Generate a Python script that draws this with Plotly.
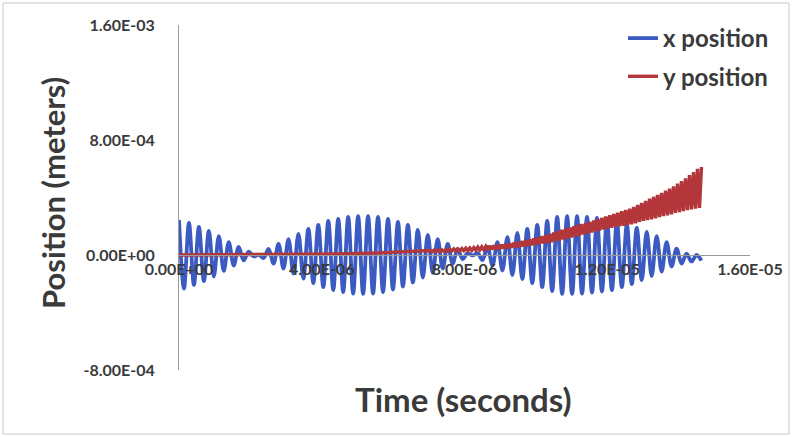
import numpy as np
import plotly.graph_objects as go

SCALE = 1e-4  # values below are in units of 1e-4 m

# ---- x position: successive extremes (half-period samples)
x_pos_extremes = [
    2.44, -2.33, 2.23, -2.09, 1.95, -1.81, 1.67, -1.50, 1.32, -1.11,
    0.90, -0.73, 0.56, -0.38, 0.24, -0.10, 0.03, -0.21, 0.42, -0.59,
    0.77, -0.94, 1.11, -1.29, 1.46, -1.64, 1.81, -1.95, 2.09, -2.23,
    2.37, -2.44, 2.51, -2.58, 2.65, -2.68, 2.71, -2.71, 2.71, -2.68,
    2.65, -2.58, 2.51, -2.40, 2.30, -2.19, 2.09, -1.91, 1.74, -1.57,
    1.39, -1.25, 1.11, -0.94, 0.77, -0.59, 0.42, -0.28, 0.14, -0.03,
    0.14, -0.35, 0.56, -0.73, 0.90, -1.08, 1.25, -1.39, 1.53, -1.67,
    1.81, -1.95, 2.09, -2.23, 2.37, -2.51, 2.65, -2.71, 2.71, -2.71,
    2.71, -2.68, 2.65, -2.61, 2.58, -2.54, 2.51, -2.44, 2.33, -2.23,
    2.12, -2.02, 1.88, -1.74, 1.60, -1.46, 1.32, -1.15, 0.90, -0.80,
    0.45, -0.60, 0.10, -0.45, 0.00, -0.38,
]
x_pos_t_start = 0.0
x_pos_t_end = 1.464e-5

# ---- y position: early smooth part
y_pos_early_t = [0.0, 2.27e-6, 4.51e-6, 5.63e-6, 6.47e-6]
y_pos_early = [0.0, 0.02, 0.08, 0.15, 0.22]

# ---- y position: oscillating part, upper and lower extremes
y_pos_upper = [
    0.31, 0.33, 0.34, 0.36, 0.38, 0.40, 0.42, 0.43, 0.45, 0.47,
    0.49, 0.52, 0.55, 0.57, 0.60, 0.63, 0.66, 0.69, 0.72, 0.76,
    0.80, 0.85, 0.90, 0.96, 1.02, 1.08, 1.15, 1.22, 1.30, 1.38,
    1.46, 1.56, 1.66, 1.75, 1.83, 1.91, 2.00, 2.08, 2.16, 2.23,
    2.30, 2.40, 2.49, 2.58, 2.67, 2.76, 2.85, 2.94, 3.04, 3.13,
    3.22, 3.35, 3.48, 3.62, 3.77, 3.92, 4.05, 4.18, 4.32, 4.47,
    4.61, 4.78, 4.96, 5.14, 5.34, 5.55, 5.77, 6.00, 6.12,
]
y_pos_lower = [
    0.21, 0.23, 0.24, 0.25, 0.27, 0.28, 0.29, 0.29, 0.30, 0.31,
    0.32, 0.34, 0.35, 0.36, 0.37, 0.39, 0.40, 0.42, 0.45, 0.48,
    0.51, 0.54, 0.56, 0.60, 0.64, 0.68, 0.72, 0.77, 0.81, 0.85,
    0.90, 0.96, 1.01, 1.08, 1.15, 1.22, 1.29, 1.36, 1.43, 1.50,
    1.57, 1.64, 1.71, 1.78, 1.85, 1.90, 1.95, 2.00, 2.04, 2.08,
    2.13, 2.20, 2.30, 2.37, 2.43, 2.48, 2.55, 2.64, 2.70, 2.76,
    2.83, 2.93, 2.99, 3.05, 3.12, 3.18, 3.23, 3.27,
]
y_osc_t_start = 7.03e-6
y_osc_t_end = 1.464e-5

x_tickvals = [0, 4e-6, 8e-6, 1.2e-5, 1.6e-5]
x_ticktext = ["0.00E+00", "4.00E-06", "8.00E-06", "1.20E-05", "1.60E-05"]
y_tickvals = [-8e-4, 0, 8e-4, 1.6e-3]
y_ticktext = ["-8.00E-04", "0.00E+00", "8.00E-04", "1.60E-03"]

BLUE = "#3B5BC2"
RED = "#B3363A"
FONT = "Lato"

# build series
xt = np.linspace(x_pos_t_start, x_pos_t_end, len(x_pos_extremes))
xv = np.array(x_pos_extremes) * SCALE

osc_vals = []
for i in range(len(y_pos_upper)):
    osc_vals.append(y_pos_upper[i])
    if i < len(y_pos_lower):
        osc_vals.append(y_pos_lower[i])
osc_t = np.linspace(y_osc_t_start, y_osc_t_end, len(osc_vals))
yt = np.concatenate([y_pos_early_t, osc_t])
yv = np.concatenate([y_pos_early, osc_vals]) * SCALE

fig = go.Figure()
fig.add_trace(go.Scatter(x=xt, y=xv, mode="lines", name="x position",
                         line=dict(color=BLUE, width=3.8, shape="spline", smoothing=1),
                         legendgroup="a"))
fig.add_trace(go.Scatter(x=yt, y=yv, mode="lines", name="y position",
                         line=dict(color=RED, width=3.4),
                         legendgroup="b"))

W, H = 792, 437
L, R, T, B = 179, 42, 25, 67
pw, ph = W - L - R, H - T - B

def px2paper_x(px):
    return (px - L) / pw

def py2paper_y(py):
    return (H - B - py) / ph

tick_font = dict(family=FONT, size=16, color="#3a3a3a", weight="bold")
xtitle_font = dict(family=FONT, size=33, color="#3a3a3a", weight="bold")
ytitle_font = dict(family=FONT, size=31, color="#3a3a3a", weight="bold")

fig.update_layout(
    width=W, height=H,
    margin=dict(l=L, r=R, t=T, b=B, autoexpand=False),
    paper_bgcolor="white", plot_bgcolor="white",
    showlegend=True,
    legend=dict(x=px2paper_x(623), y=py2paper_y(16), xanchor="left", yanchor="top",
                font=dict(family=FONT, size=24, color="#3a3a3a", weight="bold"),
                bgcolor="rgba(0,0,0,0)", tracegroupgap=4, itemwidth=30,
                traceorder="grouped"),
    xaxis=dict(range=[0, 1.6e-5], tickvals=x_tickvals, ticktext=x_ticktext,
               showgrid=False, zeroline=False, showline=True, linecolor="#9a9a9a",
               linewidth=1, anchor="free", position=1/3, ticks="",
               tickfont=tick_font),
    yaxis=dict(range=[-8e-4, 1.6e-3], tickvals=y_tickvals, ticktext=y_ticktext,
               showgrid=False, zeroline=False, showline=True, linecolor="#9a9a9a",
               linewidth=1, ticks="", tickfont=tick_font, ticklabelstandoff=20),
    annotations=[
        dict(text="Time (seconds)", x=px2paper_x(463), y=py2paper_y(399),
             xref="paper", yref="paper", showarrow=False, font=xtitle_font,
             xanchor="center", yanchor="middle"),
        dict(text="Position (meters)", x=px2paper_x(53), y=py2paper_y(193),
             xref="paper", yref="paper", showarrow=False, font=ytitle_font,
             textangle=-90, xanchor="center", yanchor="middle"),
    ],
    shapes=[
        dict(type="rect", xref="paper", yref="paper",
             x0=px2paper_x(3), x1=px2paper_x(789), y0=py2paper_y(434), y1=py2paper_y(3),
             line=dict(color="#c8c8c8", width=1), fillcolor="rgba(0,0,0,0)", layer="below"),
    ],
)

fig.write_html("out.html",
               config={"displayModeBar": False},
               post_script="document.body.style.margin='0';document.body.style.overflow='hidden';")
